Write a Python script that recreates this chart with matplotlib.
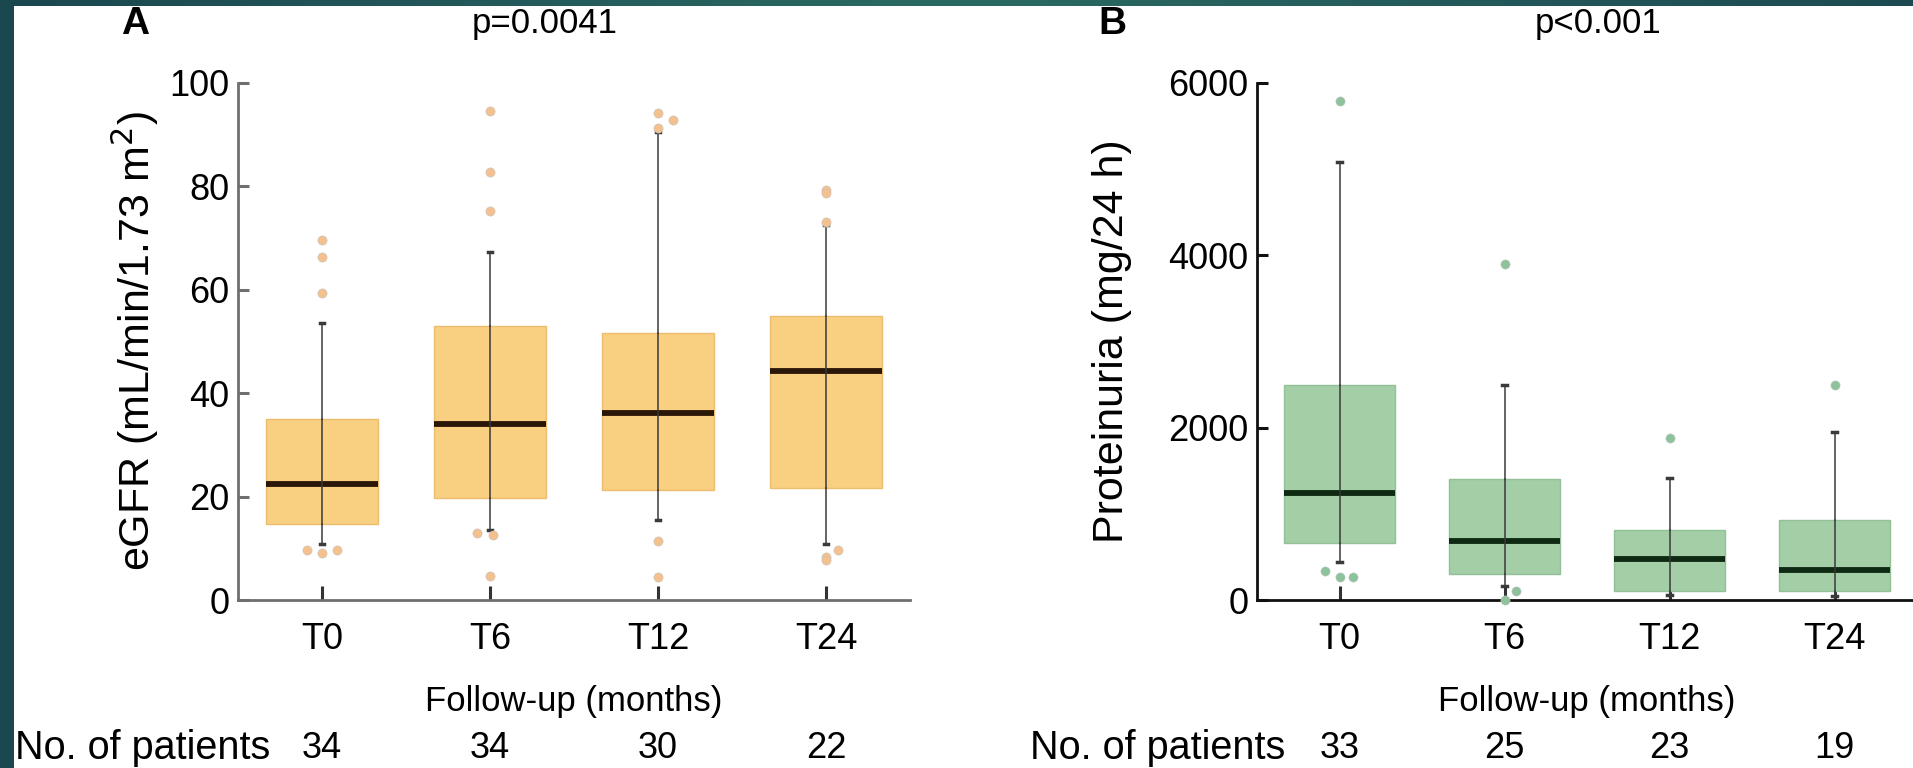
import numpy as np
import matplotlib
matplotlib.use("Agg")
import matplotlib.pyplot as plt
from matplotlib.colors import LinearSegmentedColormap

plt.rcParams['font.family'] = ['Liberation Sans', 'DejaVu Sans']

# ---- data -------------------------------------------------------------
timepoints = ["T0", "T6", "T12", "T24"]

# Panel A: eGFR (mL/min/1.73 m2)
egfr_q1 = [14.7, 19.8, 21.2, 21.7]
egfr_med = [22.5, 34.1, 36.1, 44.2]
egfr_q3 = [35.1, 53.0, 51.6, 55.0]
egfr_lo = [10.8, 13.5, 15.4, 10.8]
egfr_hi = [53.5, 67.3, 90.5, 72.5]
egfr_out = [[69.7, 66.3, 59.4, 9.7, 9.0, 9.7],
            [94.5, 82.8, 75.2, 13.0, 12.6, 4.6],
            [94.2, 92.9, 91.3, 11.4, 4.4],
            [79.4, 78.7, 73.2, 9.7, 8.4, 7.7]]
egfr_out_dx = [[0, 0, 0, -0.09, 0, 0.09],
               [0, 0, 0, -0.08, 0.02, 0],
               [0, 0.09, 0, 0, 0],
               [0, 0, 0, 0.07, 0, 0]]
egfr_n = [34, 34, 30, 22]

# Panel B: proteinuria (mg/24 h)
prot_q1 = [660, 300, 108, 108]
prot_med = [1242, 685, 477, 350]
prot_q3 = [2492, 1404, 811, 923]
prot_lo = [446, 165, 60, 50]
prot_hi = [5080, 2500, 1412, 1954]
prot_out = [[5793, 335, 270, 270],
            [3904, 108, 0],
            [1885],
            [2500]]
prot_out_dx = [[0, -0.09, 0, 0.08],
               [0, 0.07, 0],
               [0],
               [0]]
prot_n = [33, 25, 23, 19]

FS = 25


def draw_panel(ax, q1, med, q3, lo, hi, out, out_dx, fill, edge, medc, dotc,
               spinec, ymax, yticks):
    pos = np.arange(1, len(timepoints) + 1)
    stats = []
    for i in range(len(timepoints)):
        stats.append(dict(q1=q1[i], med=med[i], q3=q3[i],
                          whislo=lo[i], whishi=hi[i], fliers=[]))
    ax.bxp(stats, positions=pos, widths=0.67, patch_artist=True,
           showfliers=False, capwidths=0.025,
           boxprops=dict(facecolor=fill, edgecolor=edge, linewidth=1.0),
           medianprops=dict(color=medc, linewidth=4.2, solid_capstyle='butt'),
           whiskerprops=dict(color='#3a3a3a', linewidth=1.1),
           capprops=dict(color='#3a3a3a', linewidth=2.5),
           zorder=2)
    # whisker line runs through the box as in the reference
    for i, p in enumerate(pos):
        ax.plot([p, p], [q1[i], q3[i]], color='#3a3a3a', lw=1.1, zorder=3)
    for i, p in enumerate(pos):
        xs = [p + d for d in out_dx[i]]
        ax.scatter(xs, out[i], s=44, color=dotc, edgecolors='#c4c4c4',
                   linewidths=0.4, zorder=4, clip_on=False)

    ax.set_xlim(0.5, 4.5)
    ax.set_ylim(0, ymax)
    ax.set_yticks(yticks)
    ax.set_xticks(pos)
    ax.set_xticklabels(timepoints, fontsize=FS + 1)
    for lab in ax.get_yticklabels():
        lab.set_fontsize(FS + 1)
    ax.spines['top'].set_visible(False)
    ax.spines['right'].set_visible(False)
    for s in ('left', 'bottom'):
        ax.spines[s].set_color(spinec)
        ax.spines[s].set_linewidth(2.0)
    ax.tick_params(axis='y', direction='in', length=8, width=2.2,
                   color=spinec, pad=6)
    ax.tick_params(axis='x', direction='in', length=10, width=2.2,
                   color='#333333', pad=16)
    ax.set_xlabel("Follow-up (months)", fontsize=FS, labelpad=20)
    ax.set_facecolor('white')


fig = plt.figure(figsize=(19.13, 7.68), dpi=100)
fig.patch.set_facecolor('white')

# dark teal frame at top and left
frame_cmap = LinearSegmentedColormap.from_list(
    'frame', ['#1b4750', '#2b6a63', '#1d4a52'])
top = fig.add_axes([0, 1 - 6 / 768, 1, 6 / 768])
top.imshow(np.linspace(0, 1, 256)[None, :], aspect='auto', cmap=frame_cmap)
top.axis('off')
left = fig.add_axes([0, 0, 14 / 1913, 1])
left.set_facecolor('#1b4750')
left.set_xticks([]); left.set_yticks([])
for s in left.spines.values():
    s.set_visible(False)

axA = fig.add_axes([238 / 1913, 168 / 768, 672 / 1913, 517 / 768])
draw_panel(axA, egfr_q1, egfr_med, egfr_q3, egfr_lo, egfr_hi, egfr_out,
           egfr_out_dx, '#f9cf82', '#ecbd6e', '#2a1707', '#f4c08e',
           '#6f6f6f', 100, [0, 20, 40, 60, 80, 100])
axA.set_ylabel("eGFR (mL/min/1.73 m$^2$)", fontsize=31, labelpad=6)

axB = fig.add_axes([1257 / 1913, 168 / 768, 660 / 1913, 517 / 768])
draw_panel(axB, prot_q1, prot_med, prot_q3, prot_lo, prot_hi, prot_out,
           prot_out_dx, '#a3cea6', '#92c097', '#0e2a12', '#8cc39a',
           '#111111', 6000, [0, 2000, 4000, 6000])
axB.set_ylabel("Proteinuria (mg/24 h)", fontsize=31, labelpad=26)

# panel letters and p-values
fig.text(135 / 1913, 1 - 24 / 768, "A", fontsize=28, fontweight='bold',
         ha='center', va='center')
fig.text(545 / 1913, 1 - 24 / 768, "p=0.0041", fontsize=FS,
         ha='center', va='center')
fig.text(1112 / 1913, 1 - 24 / 768, "B", fontsize=28, fontweight='bold',
         ha='center', va='center')
fig.text(1598 / 1913, 1 - 24 / 768, "p<0.001", fontsize=FS,
         ha='center', va='center')

# number of patients row
row_y = 1 - 748 / 768
for ax, counts, x0 in ((axA, egfr_n, 15), (axB, prot_n, 1030)):
    fig.text(x0 / 1913, row_y, "No. of patients", fontsize=28.5,
             ha='left', va='center')
    for p, n in zip(range(1, 5), counts):
        xf = fig.transFigure.inverted().transform(
            ax.transData.transform((p, 0)))[0]
        fig.text(xf, row_y, str(n), fontsize=FS + 1,
                 ha='center', va='center')

fig.savefig("out.png", dpi=100)
